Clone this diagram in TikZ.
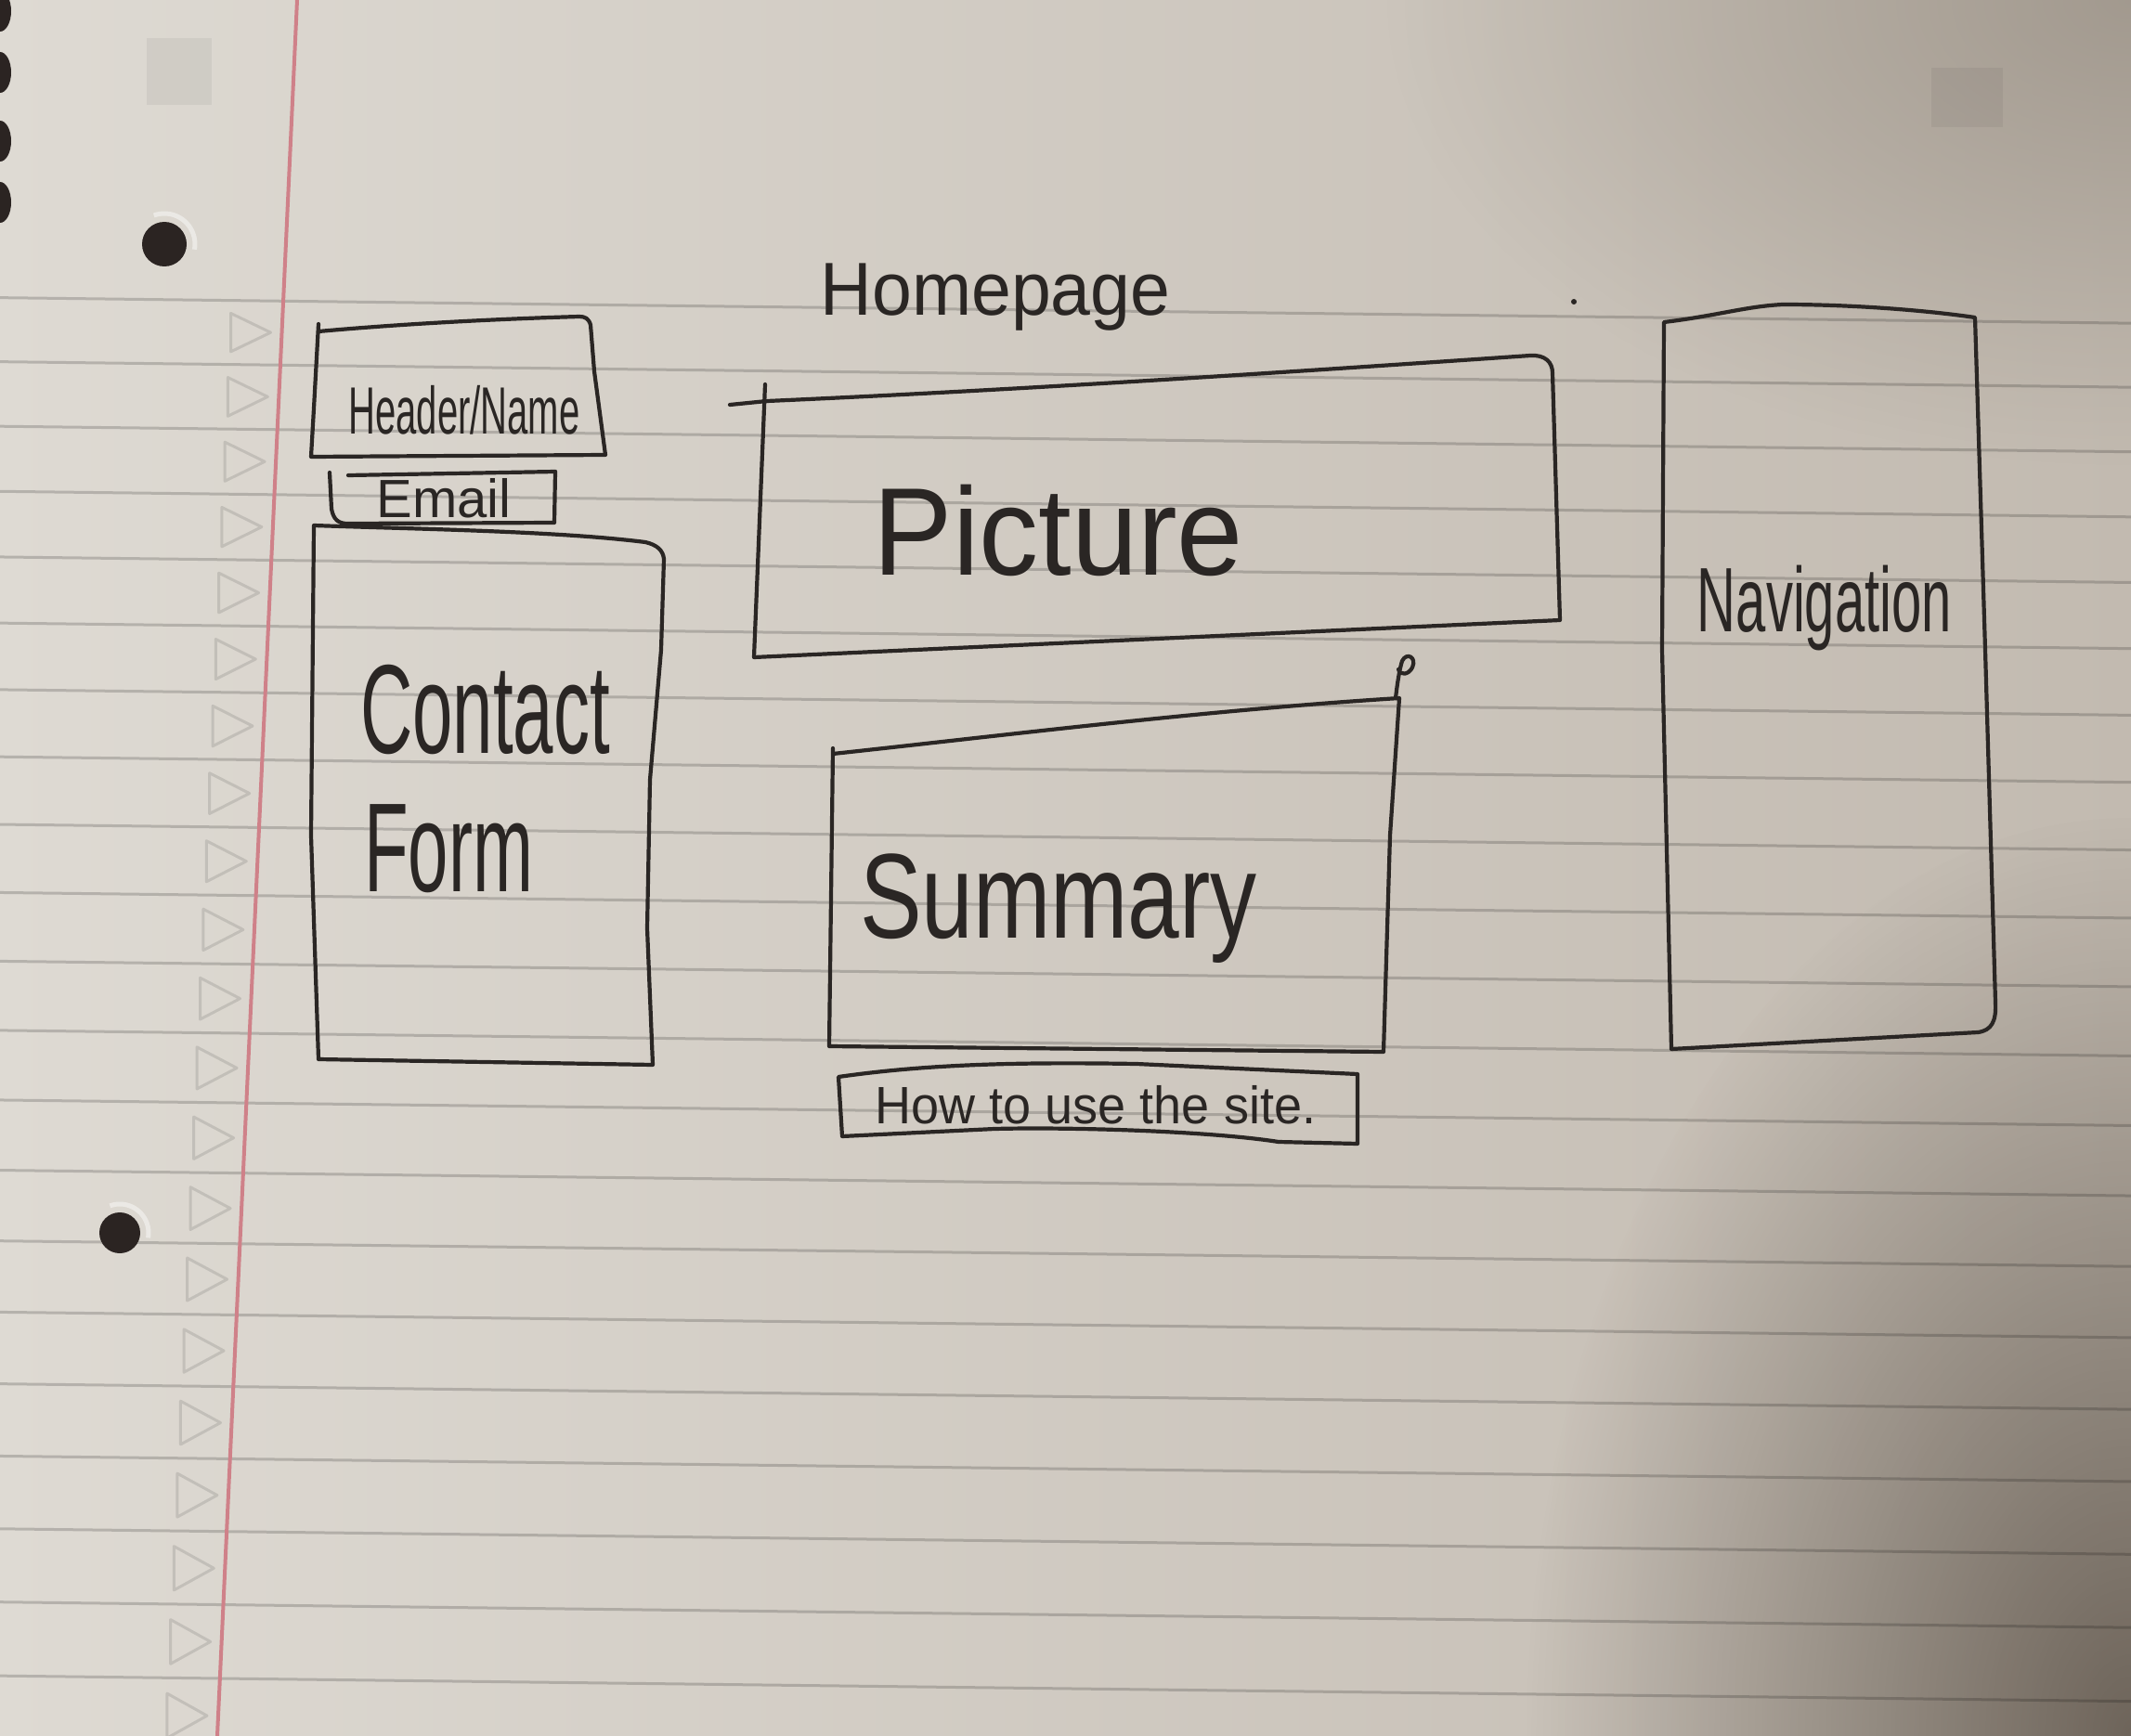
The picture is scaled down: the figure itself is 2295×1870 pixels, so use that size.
\documentclass[tikz,border=0pt]{standalone}
\usepackage{fontspec}
\usepackage{graphicx}
\setmainfont{Liberation Sans}
\usetikzlibrary{fadings}

\definecolor{paperL}{HTML}{DEDAD3}
\definecolor{paperR}{HTML}{C2BAB0}
\definecolor{cornerTR}{HTML}{958C81}
\definecolor{shadowcol}{HTML}{4A4036}
\definecolor{pencil}{HTML}{2A2624}
\definecolor{margin}{HTML}{CF8189}
\definecolor{holecol}{HTML}{2B2422}

\tikzfading[name=cornerfade, inner color=transparent!0, outer color=transparent!100]

% handwritten-style word: size, vertical stretch, text
\newcommand{\pencilword}[3]{{\fontsize{#1}{#1}\selectfont\scalebox{1}[#2]{#3}}}

\tikzset{
  pen/.style={draw=pencil, line width=4.2, line join=round, line cap=round},
  word/.style={inner sep=0pt, text=pencil, anchor=base},
  ruled/.style={draw=black, opacity=0.18, line width=3},
  margintri/.style={draw=black, opacity=0.11, line width=3, line join=round},
}

\begin{document}
\begin{tikzpicture}[x=1pt, y=-1pt]
\useasboundingbox (0,0) rectangle (2295,1870);
\begin{scope}
\clip (0,0) rectangle (2295,1870);

% paper
\fill[left color=paperL, right color=paperR] (0,0) rectangle (2295,1870);
\fill[cornerTR, opacity=0.7, path fading=cornerfade] (2295,0) ellipse (800 and 500);
\fill[shadowcol, opacity=0.7, path fading=cornerfade] (2295,1870) ellipse (650 and 1000);

% faint squares printed on the sheet
\fill[black, opacity=0.05] (158,41) rectangle (228,113);
\fill[black, opacity=0.05] (2080,73) rectangle (2157,137);

% ruled lines
\foreach \n in {0,...,20}{
  \pgfmathsetmacro{\yl}{327+69*\n+0.275*\n*(\n-1)-0.012*530}
  \pgfmathsetmacro{\yr}{\yl+0.012*2295}
  \draw[ruled] (0,\yl) -- (2295,\yr);
}

% margin triangles
\foreach \n in {0,...,20}{
  \pgfmathsetmacro{\s}{69+0.55*\n}
  \pgfmathsetmacro{\yc}{327+69*\n+0.275*\n*(\n-1)-0.012*280+\s/2}
  \pgfmathsetmacro{\tx}{320-0.046*\yc}
  \draw[margintri] ({\tx-55},{\yc-0.3*\s}) -- ({\tx-12},\yc) -- ({\tx-55},{\yc+0.3*\s}) -- cycle;
}

% red margin line
\draw[margin, line width=4] (320,0) -- (234,1870);

% binder holes and spiral
\fill[holecol] (177,263) circle (24);
\draw[white, opacity=0.45, line width=5] (177,263) ++(-110:33) arc (-110:10:33);
\fill[holecol] (129,1328) circle (22);
\draw[white, opacity=0.45, line width=5] (129,1328) ++(-110:31) arc (-110:10:31);
\foreach \yy in {12,78,152,218}
  \fill[holecol] (0,\yy) ellipse (12 and 22);
\end{scope}

% ---- wireframe ----
\node[word] (homepage) at (1072,340) {\pencilword{77}{1.05}{Homepage}};
\fill[pencil] (1695,325) circle (3);

% header / name
\draw[pen] (343,349) -- (338,440) -- (335,492) -- (652,490) -- (640,400) -- (636,350)
  .. controls (634,343) and (630,341) .. (624,341)
  .. controls (520,344) and (420,350) .. (343,357);
\node[word] (header) at (500,467) {\pencilword{40}{1.8}{Header/Name}};

% email
\draw[pen] (598,508) -- (375,512);
\draw[pen] (355,509) -- (357,548) .. controls (359,560) and (365,564) .. (374,564)
  -- (597,563) -- (598,508);
\node[word] (email) at (478,557) {\pencilword{58}{1.0}{Email}};

% contact form
\draw[pen] (338,566) .. controls (450,570) and (600,572) .. (695,584)
  .. controls (708,587) and (714,593) .. (715,602)
  -- (712,700) -- (700,840) -- (697,1000) -- (703,1147)
  -- (343,1141) -- (335,900) -- cycle;
\node[word, anchor=base west] (contact) at (388,811) {\pencilword{78}{1.75}{Contact}};
\node[word, anchor=base west] (form) at (392,960) {\pencilword{78}{1.75}{Form}};

% picture
\draw[pen] (786,436) -- (826,432) .. controls (1100,420) and (1400,400) .. (1648,383)
  .. controls (1664,382) and (1672,390) .. (1672,402)
  -- (1680,668) -- (812,708) -- (824,414);
\node[word] (picture) at (1140,619) {\pencilword{128}{1.05}{Picture}};

% summary
\draw[pen] (897,806) -- (893,1127) -- (1490,1133) -- (1497,900) -- (1507,752)
  .. controls (1300,765) and (1100,790) .. (897,812);
\draw[pen] (1503,752) .. controls (1505,735) and (1507,722) .. (1510,712)
  .. controls (1515,702) and (1526,708) .. (1521,719)
  .. controls (1517,727) and (1508,728) .. (1506,721);
\node[word] (summary) at (1140,1010) {\pencilword{100}{1.3}{Summary}};

% how to use the site
\draw[pen] (903,1160) .. controls (1000,1146) and (1100,1144) .. (1224,1146)
  -- (1462,1157) -- (1462,1232) -- (1377,1230)
  .. controls (1300,1218) and (1150,1214) .. (1071,1216)
  -- (907,1224) -- cycle;
\node[word] (howto) at (1180,1210) {\pencilword{54}{1.05}{How to use the site.}};

% navigation
\draw[pen] (1792,347) .. controls (1850,340) and (1880,330) .. (1920,328)
  .. controls (2000,328) and (2080,335) .. (2127,342)
  -- (2138,700) -- (2149,1080)
  .. controls (2150,1100) and (2145,1110) .. (2130,1112)
  -- (1800,1130) -- (1790,700) -- cycle;
\node[word] (navigation) at (1965,680) {\pencilword{58}{1.7}{Navigation}};
\end{tikzpicture}
\end{document}
